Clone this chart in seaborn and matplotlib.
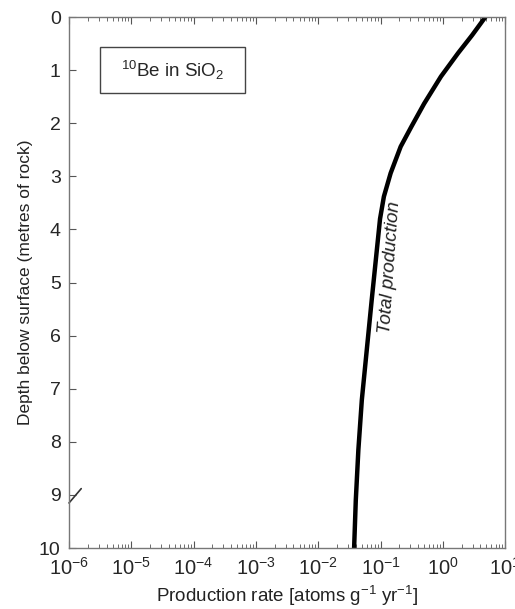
import numpy as np
import pandas as pd
import matplotlib.pyplot as plt
import matplotlib.ticker as mticker
from matplotlib.lines import Line2D
from matplotlib.patches import Rectangle
import seaborn as sns

# values
depth_m = [0, 0.34, 0.68, 1.12, 1.63, 2.07, 2.44, 2.94, 3.38, 3.8, 4.39, 5.33, 6.27, 7.21, 8.15, 9.1, 10]
prod_rate = [4.8, 2.95, 1.75, 0.93, 0.50, 0.31, 0.21, 0.145, 0.113, 0.098, 0.087, 0.072, 0.060, 0.050, 0.044, 0.040, 0.0376]

df = pd.DataFrame({'depth': depth_m, 'rate': prod_rate})

sns.set_style("white")
plt.rcParams['font.family'] = ['Liberation Sans', 'DejaVu Sans']
plt.rcParams['mathtext.fontset'] = 'custom'
plt.rcParams['mathtext.rm'] = 'Liberation Sans'
plt.rcParams['mathtext.it'] = 'Liberation Sans:italic'

fig = plt.figure(figsize=(5.15, 6.09), dpi=100)
ax = fig.add_axes([0.134, 0.100, 0.847, 0.872])

sns.lineplot(data=df, x='rate', y='depth', orient='y', sort=False,
             color='black', linewidth=3.2, ax=ax)

ax.set_xscale('log')
ax.set_xlim(1e-6, 1e1)
ax.set_ylim(10, 0)
ax.set_yticks(range(0, 11))
ax.xaxis.set_major_locator(mticker.LogLocator(base=10, numticks=10))
ax.xaxis.set_minor_locator(mticker.LogLocator(base=10, subs=np.arange(2, 10), numticks=20))
ax.xaxis.set_minor_formatter(mticker.NullFormatter())

gray = '#777777'
for s in ax.spines.values():
    s.set_color(gray)
    s.set_linewidth(1.0)

ax.tick_params(axis='x', which='both', direction='in', top=True, bottom=True,
               color='#555555', labelsize=14.5, pad=6)
ax.tick_params(axis='x', which='major', length=5)
ax.tick_params(axis='x', which='minor', length=3)
ax.tick_params(axis='y', which='major', direction='in', left=True, right=False,
               length=5, color='#555555', labelsize=14, pad=6)

ax.set_xlabel('Production rate [atoms g$^{-1}$ yr$^{-1}$]', fontsize=13.5, color='#222222')
ax.set_ylabel('Depth below surface (metres of rock)', fontsize=12.5, color='#222222')

# label box
ax.add_patch(Rectangle((0.071, 0.857), 0.333, 0.087, transform=ax.transAxes,
                       fill=False, edgecolor='#444444', linewidth=1.0))
ax.text(0.237, 0.900, '$^{10}$Be in SiO$_2$', transform=ax.transAxes,
        ha='center', va='center', fontsize=13.5)

ax.text(0.142, 4.71, 'Total production', rotation=86, ha='center', va='center',
        fontsize=13.5, style='italic', color='#222222')

# axis break mark near depth 9
ax.add_line(Line2D([0.0, 0.028], [0.085, 0.112], transform=ax.transAxes,
                   color='#333333', linewidth=1.2, clip_on=False))

fig.savefig('out.png', dpi=100)
